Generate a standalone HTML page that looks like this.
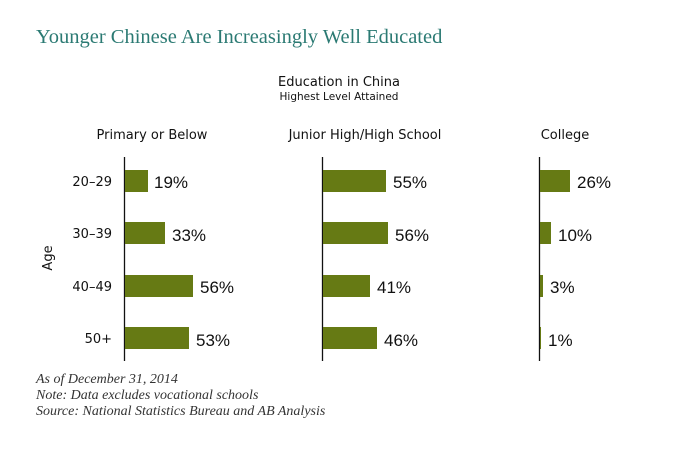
<!DOCTYPE html>
<html><head><meta charset="utf-8"><style>
body{margin:0;background:#fff;width:679px;height:460px;overflow:hidden}
svg text{font-family:"DejaVu Sans","Liberation Sans",sans-serif;fill:#111}
svg text.v{font-family:"Liberation Sans",sans-serif;font-size:17px}
svg text.f{font-family:"Liberation Serif",serif;font-size:14px;font-style:italic;fill:#333}
</style></head><body>
<svg width="679" height="460" xmlns="http://www.w3.org/2000/svg">
<text x="36" y="43" style="font-family:'Liberation Serif',serif;font-size:20.5px;fill:#2b7a73">Younger Chinese Are Increasingly Well Educated</text>
<text x="339" y="86" text-anchor="middle" font-size="13">Education in China</text>
<text x="339" y="100" text-anchor="middle" font-size="10.5">Highest Level Attained</text>
<text x="152" y="139" text-anchor="middle" font-size="13">Primary or Below</text>
<text x="365" y="139" text-anchor="middle" font-size="13">Junior High/High School</text>
<text x="565" y="139" text-anchor="middle" font-size="13">College</text>
<g font-size="13" text-anchor="end">
<text x="112" y="186">20–29</text><text x="112" y="238">30–39</text>
<text x="112" y="291">40–49</text><text x="112" y="343">50+</text>
</g>
<text transform="translate(52,258) rotate(-90)" text-anchor="middle" font-size="13">Age</text>
<g stroke="#111" stroke-width="1.3">
<line x1="124.5" y1="157" x2="124.5" y2="361"/><line x1="322.5" y1="157" x2="322.5" y2="361"/><line x1="539.5" y1="157" x2="539.5" y2="361"/>
</g>
<g fill="#667a14">
<rect x="125" y="170" width="23" height="22"/><rect x="125" y="222" width="40" height="22"/>
<rect x="125" y="275" width="68" height="22"/><rect x="125" y="327" width="64" height="22"/>
<rect x="323" y="170" width="63" height="22"/><rect x="323" y="222" width="65" height="22"/>
<rect x="323" y="275" width="47" height="22"/><rect x="323" y="327" width="54" height="22"/>
<rect x="540" y="170" width="30" height="22"/><rect x="540" y="222" width="11" height="22"/>
<rect x="540" y="275" width="3" height="22"/><rect x="540" y="327" width="1" height="22"/>
</g>
<text class="v" x="154" y="188">19%</text><text class="v" x="172" y="241">33%</text><text class="v" x="200" y="293">56%</text><text class="v" x="196" y="346">53%</text>
<text class="v" x="393" y="188">55%</text><text class="v" x="395" y="241">56%</text><text class="v" x="377" y="293">41%</text><text class="v" x="384" y="346">46%</text>
<text class="v" x="577" y="188">26%</text><text class="v" x="558" y="241">10%</text><text class="v" x="550" y="293">3%</text><text class="v" x="548" y="346">1%</text>
<text class="f" x="36" y="383">As of December 31, 2014</text>
<text class="f" x="36" y="399">Note: Data excludes vocational schools</text>
<text class="f" x="36" y="415">Source: National Statistics Bureau and AB Analysis</text>
</svg>
</body></html>
